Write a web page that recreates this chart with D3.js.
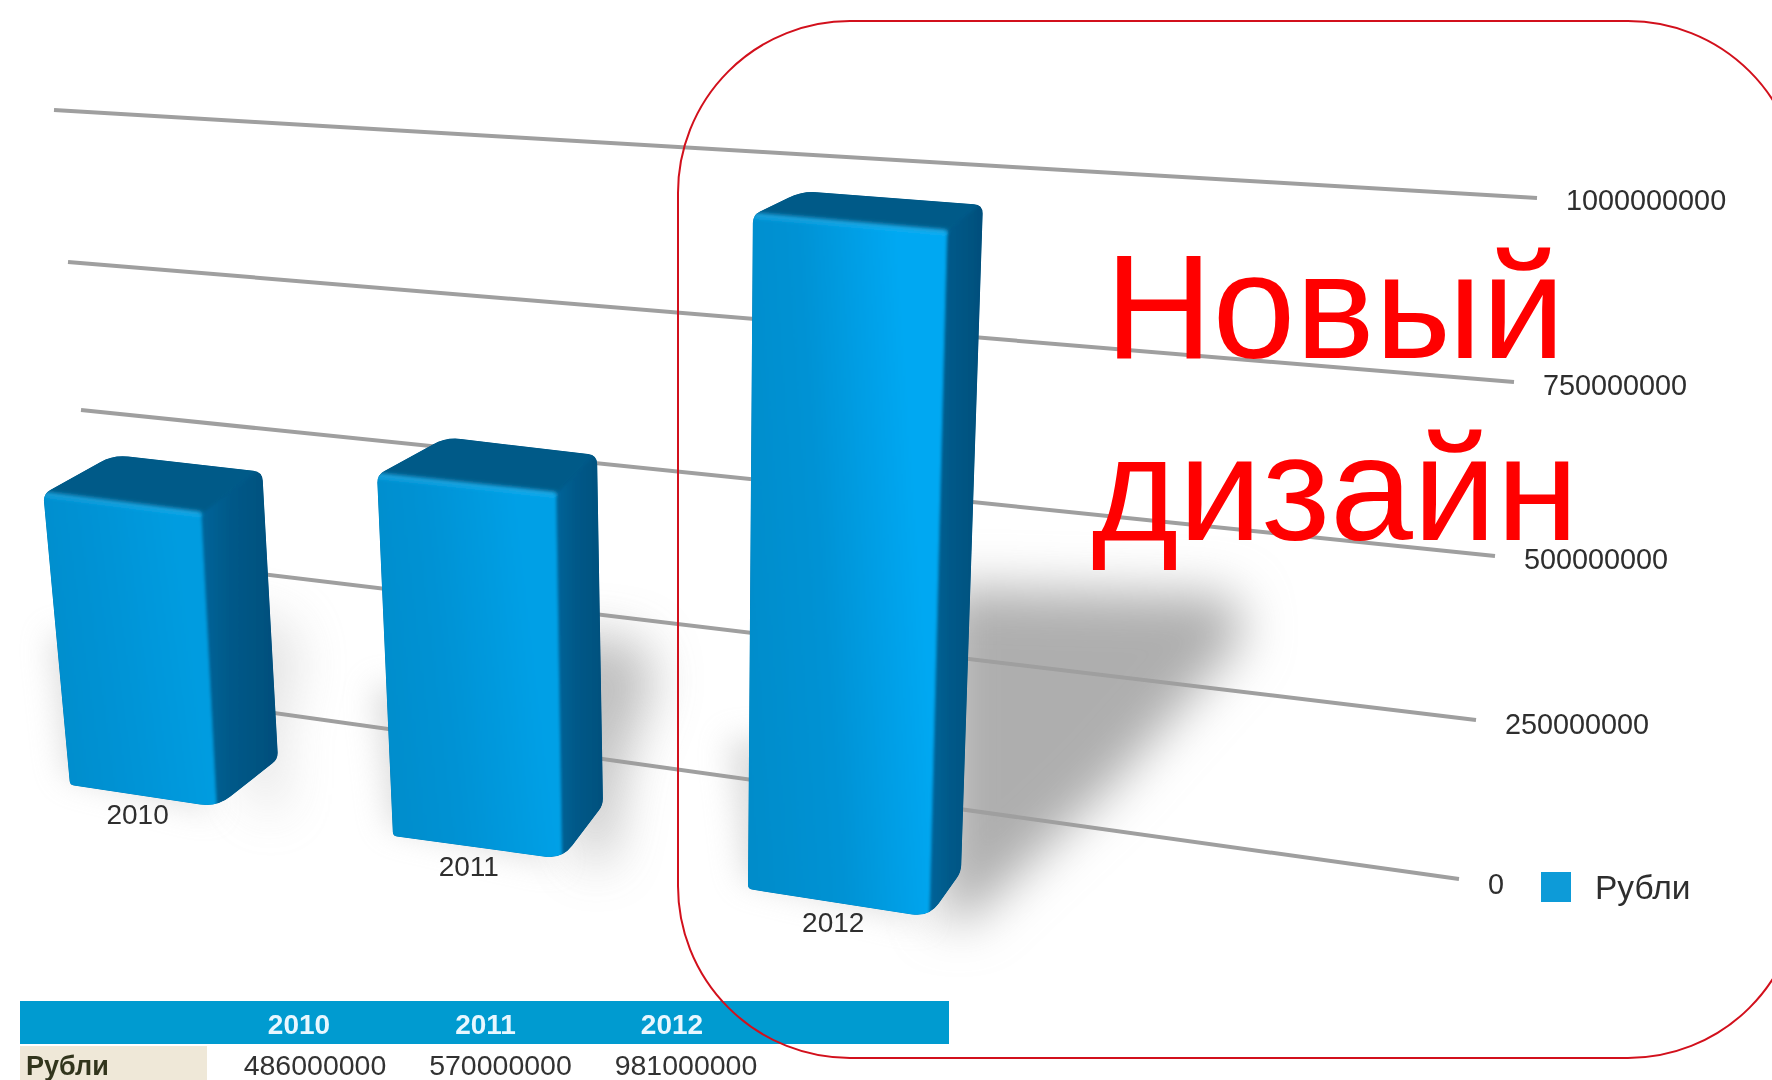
<!DOCTYPE html>
<html lang="ru">
<head>
<meta charset="utf-8">
<title>Рубли</title>
<script src="https://cdn.jsdelivr.net/npm/d3@7/dist/d3.min.js"></script>
<style>
  html, body { margin: 0; padding: 0; background: #fff; overflow: hidden; }
  svg { display: block; }
  text { font-family: "Liberation Sans", Arial, sans-serif; }
</style>
</head>
<body>
<svg id="chart" width="1772" height="1080"></svg>
<script>
// Chart data
const years = ["2010", "2011", "2012"];
const rubles = [486000000, 570000000, 981000000];
const axisTicks = [0, 250000000, 500000000, 750000000, 1000000000];
const seriesName = "Рубли";
const headline = ["Новый", "дизайн"];

const svg = d3.select("#chart");
const defs = svg.append("defs");

// Perspective frame: each gridline runs from a far end to a near end, both driven by value.
const gridLeftX = d3.scaleLinear(axisTicks, [110, 96, 81, 68, 54]);
const gridLeftY = d3.scaleLinear(axisTicks, [690, 554, 410, 262, 110]);
const gridRightX = d3.scaleLinear(axisTicks, [1459, 1476, 1495, 1514, 1537]);
const gridRightY = d3.scaleLinear(axisTicks, [879, 720, 556, 382, 198]);
const tickLabelDy = d3.scaleLinear([0, 500000000, 1000000000], [15, 13, 12]);

// Per-category projection of the bars; nearer columns get a larger value scale.
const perCat = range => d3.scaleOrdinal(years, range);
const baseX = perCat([70, 393, 748]);
const baseY = perCat([785, 836, 889]);
const bottomW = perCat([147, 169, 181]);
const bottomDy = perCat([22, 23, 28]);
const topW = perCat([158, 179, 194]);
const topDy = perCat([20, 19, 17]);
const fullHeight = perCat([599, 633, 687]);
const fullLean = perCat([-55, -28, 5]);
const backL = perCat([[70, -39], [69, -38], [49, -24]]);
const backR = perCat([[61, -42], [41, -39], [36, -27]]);
const backB = perCat([[61, -48], [41, -54], [32, -45]]);
const shadowReach = perCat([8, 38, 270]);
const shadowStrength = perCat([0.35, 0.8, 1]);
const frontLit = perCat(["#009ce0", "#00a0e6", "#00a8f2"]);
const labelShift = perCat([0, -2, 2]);
const valueUnit = d3.scaleLinear([0, 1000000000], [0, 1]);

function barGeometry(year, value) {
  const u = valueUnit(value);
  const bl = [baseX(year), baseY(year)];
  const br = [bl[0] + bottomW(year), bl[1] + bottomDy(year)];
  const tl = [bl[0] + fullLean(year) * u, bl[1] - fullHeight(year) * u];
  const tr = [tl[0] + topW(year), tl[1] + topDy(year)];
  const bTL = [tl[0] + backL(year)[0], tl[1] + backL(year)[1]];
  const bTR = [tr[0] + backR(year)[0], tr[1] + backR(year)[1]];
  const bBR = [br[0] + backB(year)[0], br[1] + backB(year)[1]];
  return { u, bl, br, tl, tr, bTL, bTR, bBR };
}

const poly = pts => "M" + pts.map(p => p.join(",")).join("L") + "Z";
const nudge = (p, dx, dy) => [p[0] + dx, p[1] + dy];

// Closed outline whose corners are rounded by the radius given for each vertex.
function roundedOutline(pts, radii) {
  const path = d3.path();
  const n = pts.length;
  const toward = (a, b, r) => {
    const len = Math.hypot(b[0] - a[0], b[1] - a[1]);
    const t = Math.min(r / len, 0.5);
    return [a[0] + (b[0] - a[0]) * t, a[1] + (b[1] - a[1]) * t];
  };
  pts.forEach((p, i) => {
    const prev = pts[(i + n - 1) % n];
    const next = pts[(i + 1) % n];
    const start = toward(p, prev, radii[i]);
    const end = toward(p, next, radii[i]);
    if (i === 0) path.moveTo(start[0], start[1]);
    else path.lineTo(start[0], start[1]);
    path.quadraticCurveTo(p[0], p[1], end[0], end[1]);
  });
  path.closePath();
  return path.toString();
}

// Filters and gradients
const blurFilter = (id, sd) => defs.append("filter")
  .attr("id", id)
  .attr("x", "-50%").attr("y", "-50%").attr("width", "200%").attr("height", "200%")
  .append("feGaussianBlur").attr("stdDeviation", sd);
blurFilter("soft", 0.7);
blurFilter("shadowBlur", 25);
blurFilter("ambientBlur", 15);
blurFilter("faceBlur", 1.6);
blurFilter("edgeBlur", 2);

const gradient = (id, x1, y1, x2, y2, stops) => {
  const g = defs.append("linearGradient").attr("id", id)
    .attr("x1", x1).attr("y1", y1).attr("x2", x2).attr("y2", y2);
  stops.forEach(([o, c]) => g.append("stop").attr("offset", o).attr("stop-color", c));
};
years.forEach((year, i) => gradient(`front-${i}`, 0, 0.62, 1, 0.38,
  [[0, "#058cca"], [0.4, "#0392d4"], [0.85, frontLit(year)], [1, frontLit(year)]]));
gradient("sideH", 0, 0, 1, 0, [[0, "#00649a"], [0.3, "#005a8a"], [1, "#004c78"]]);

// Soft ground shadows sit under the gridlines
const shadowG = svg.append("g");
const bars = years.map((year, i) => ({ year, value: rubles[i], g: barGeometry(year, rubles[i]) }));
bars.forEach(({ year, g }) => {
  const reach = shadowReach(year);
  const rise = fullHeight(year) * g.u * 0.36;
  shadowG.append("path")
    .attr("d", poly([
      [g.tr[0] - 6, g.bBR[1] - rise - 42],
      [g.bBR[0] + reach, g.bBR[1] - rise - 34],
      [g.bBR[0] + reach + 14, g.bBR[1] - rise + 6],
      [g.bBR[0] + reach * 0.55, g.bBR[1] - rise * 0.35],
      [g.bBR[0] + 4, g.br[1] + 6],
      [g.bBR[0] - 20, g.br[1]]
    ]))
    .attr("fill", "#aeaeae")
    .attr("opacity", shadowStrength(year))
    .attr("filter", "url(#shadowBlur)");
  shadowG.append("path")
    .attr("d", poly([
      [g.bl[0] - 20, g.bl[1] - 150],
      [g.bl[0] + 30, g.bl[1] - 150],
      [g.br[0], g.br[1] + 6],
      [g.bl[0] - 4, g.bl[1] - 10]
    ]))
    .attr("fill", "#c8c8c8")
    .attr("opacity", 0.6)
    .attr("filter", "url(#ambientBlur)");
});

const chart = svg.append("g").attr("filter", "url(#soft)");

// Gridlines with their value labels
const gridG = chart.append("g");
gridG.selectAll("line").data(axisTicks).join("line")
  .attr("x1", d => gridLeftX(d)).attr("y1", d => gridLeftY(d))
  .attr("x2", d => gridRightX(d)).attr("y2", d => gridRightY(d))
  .attr("stroke", "#9f9f9f").attr("stroke-width", 4);

gridG.selectAll("text").data(axisTicks).join("text")
  .attr("x", d => gridRightX(d) + 29)
  .attr("y", d => gridRightY(d) + tickLabelDy(d))
  .attr("font-size", 28.8)
  .attr("fill", "#2f2f2f")
  .text(d => d3.format("d")(d));

// Extruded columns, clipped to a rounded silhouette
const barG = chart.append("g");
bars.forEach(({ year, g }, i) => {
  const outline = roundedOutline(
    [g.tl, g.bTL, g.bTR, g.bBR, g.br, g.bl],
    [8, 15, 9, 7, 17, 4]
  );
  defs.append("clipPath").attr("id", `silhouette-${i}`).append("path").attr("d", outline);

  const clipped = barG.append("g").attr("clip-path", `url(#silhouette-${i})`);
  clipped.append("path").attr("d", outline).attr("fill", "#005c8b");
  const faces = clipped.append("g").attr("filter", "url(#faceBlur)");
  faces.append("path")
    .attr("d", poly([g.tr, nudge(g.bTR, 8, -10), nudge(g.bBR, 10, 10), nudge(g.br, 0, 10)]))
    .attr("fill", "url(#sideH)");
  faces.append("path")
    .attr("d", poly([nudge(g.tl, -8, 0), nudge(g.bTL, -8, -10), nudge(g.bTR, 8, -10), g.tr]))
    .attr("fill", "#005a88");
  faces.append("path")
    .attr("d", poly([nudge(g.tl, -8, 0), g.tr, nudge(g.br, 0, 10), nudge(g.bl, -8, 10)]))
    .attr("fill", `url(#front-${i})`);
  clipped.append("path")
    .attr("d", `M${g.tl}L${g.tr}`)
    .attr("stroke", "#1ab2f0").attr("stroke-width", 4).attr("fill", "none")
    .attr("filter", "url(#edgeBlur)");
});

// Category names under the columns
chart.append("g").selectAll("text").data(bars).join("text")
  .attr("x", d => d.g.bl[0] + bottomW(d.year) * 0.46 + labelShift(d.year))
  .attr("y", d => d.g.br[1] + 17 - Math.max(labelShift(d.year), 0))
  .attr("text-anchor", "middle")
  .attr("font-size", 28)
  .attr("fill", "#2f2f2f")
  .text(d => d.year);

// Legend
const legend = chart.append("g");
legend.append("rect")
  .attr("x", 1541).attr("y", 872).attr("width", 30).attr("height", 30)
  .attr("fill", "#0a9bd8");
legend.append("text")
  .attr("x", 1595).attr("y", 899)
  .attr("font-size", 33.5).attr("fill", "#2f2f2f")
  .text(seriesName);

// Data table along the bottom edge
const table = chart.append("g");
const headX = d3.scalePoint(years, [299, 672]);
const cellX = d3.scalePoint(years, [315, 686]);
table.append("rect").attr("x", 20).attr("y", 1001).attr("width", 929).attr("height", 43).attr("fill", "#009bd0");
table.append("rect").attr("x", 20).attr("y", 1046).attr("width", 187).attr("height", 34).attr("fill", "#efe8d8");
table.selectAll(".head").data(years).join("text").attr("class", "head")
  .attr("x", d => headX(d)).attr("y", 1034)
  .attr("text-anchor", "middle")
  .attr("font-size", 28).attr("font-weight", "bold").attr("fill", "#e8f7ff")
  .text(d => d);
table.selectAll(".cell").data(bars).join("text").attr("class", "cell")
  .attr("x", d => cellX(d.year)).attr("y", 1075)
  .attr("text-anchor", "middle")
  .attr("font-size", 28.5).attr("fill", "#333")
  .text(d => d.value);
table.append("text")
  .attr("x", 26).attr("y", 1075)
  .attr("font-size", 27).attr("font-weight", "bold").attr("fill", "#33351f")
  .text(seriesName);

// Red callout frame that runs off the right edge, and its caption
svg.append("rect")
  .attr("x", 678).attr("y", 21).attr("width", 1122).attr("height", 1037)
  .attr("rx", 172).attr("ry", 172)
  .attr("fill", "none").attr("stroke", "#d2101c").attr("stroke-width", 2);

svg.append("g").selectAll("text").data(headline).join("text")
  .attr("x", 1335)
  .attr("y", (d, i) => 358 + i * 182)
  .attr("text-anchor", "middle")
  .attr("font-size", 149)
  .attr("fill", "#ff0000")
  .text(d => d);
</script>
</body>
</html>
